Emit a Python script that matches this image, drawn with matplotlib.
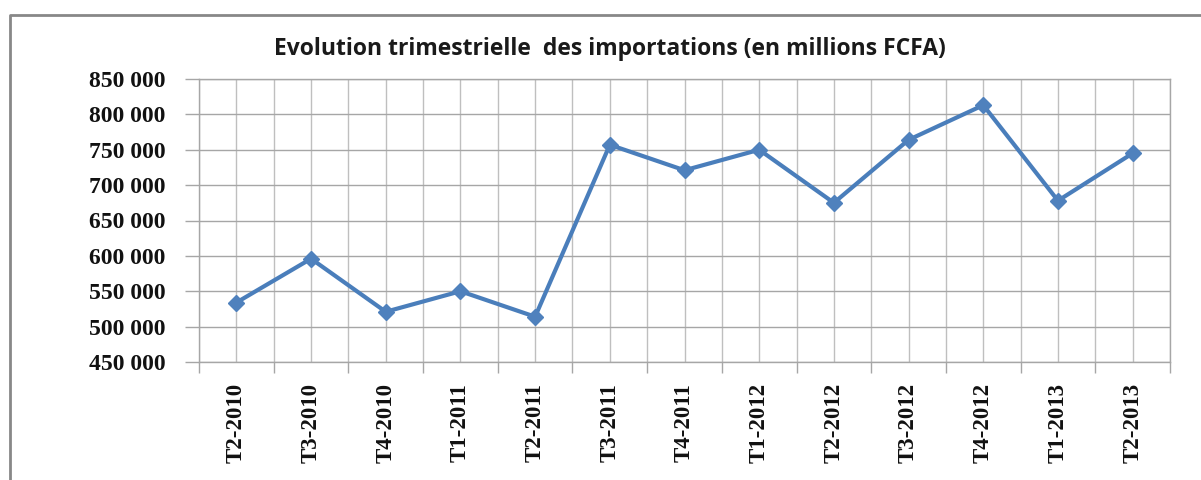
import matplotlib
matplotlib.use("Agg")
import matplotlib.pyplot as plt
import numpy as np
from matplotlib.lines import Line2D

categories = ["T2-2010", "T3-2010", "T4-2010", "T1-2011", "T2-2011", "T3-2011",
              "T4-2011", "T1-2012", "T2-2012", "T3-2012", "T4-2012", "T1-2013", "T2-2013"]
imports = [534000, 596000, 521000, 550000, 514000, 757000,
           721000, 750000, 675000, 764000, 813000, 678000, 745000]
yticks = [450000, 500000, 550000, 600000, 650000, 700000, 750000, 800000, 850000]
ytick_labels = ["450 000", "500 000", "550 000", "600 000", "650 000",
                "700 000", "750 000", "800 000", "850 000"]
title = "Evolution trimestrielle  des importations (en millions FCFA)"

W, H = 1201, 480
fig = plt.figure(figsize=(W / 100, H / 100), dpi=100)
fig.patch.set_facecolor("white")

left, right, top, bottom = 199, 1170, 79, 362
ax = fig.add_axes([left / W, 1 - bottom / H, (right - left) / W, (bottom - top) / H])

x = np.arange(len(categories))
ax.plot(x, imports, color="#4A7EBB", lw=3.0, marker="D", markersize=8,
        markerfacecolor="#4F81BD", markeredgecolor="#4F81BD", zorder=3)

ax.set_xlim(-0.5, len(categories) - 0.5)
ax.set_ylim(yticks[0], yticks[-1])

grid_c = "#A6A6A6"
ax.set_yticks(yticks)
ax.set_yticklabels(ytick_labels, family="Liberation Serif", fontweight="bold",
                   fontsize=17, color="#111111")
ax.set_xticks(np.arange(-0.5, len(categories), 1))
ax.set_xticklabels([])
ax.set_xticks(x, minor=True)
ax.set_xticklabels(categories, minor=True, rotation=90, family="Liberation Serif",
                   fontweight="bold", fontsize=16.5, color="#111111", va="top", ha="center")
ax.tick_params(axis="y", which="major", length=10, width=1, color=grid_c, pad=14)
ax.tick_params(axis="x", which="major", length=8, width=1, color=grid_c)
ax.tick_params(axis="x", which="minor", length=0, pad=15)

ax.grid(True, axis="y", color=grid_c, lw=1)
ax.grid(True, axis="x", which="both", color="#BFBFBF", lw=1)
ax.set_axisbelow(True)
for s in ax.spines.values():
    s.set_color(grid_c)
    s.set_linewidth(1)

fig.text(610 / W, 1 - 55 / H, title, ha="center", va="baseline",
         family="Open Sans", fontweight="bold", fontsize=16.5, color="#1a1a1a")

# outer chart frame
fig.add_artist(Line2D([10 / W, 10 / W, 1.02], [-0.02, 1 - 15 / H, 1 - 15 / H],
                      transform=fig.transFigure, color="#888888", lw=2))

fig.savefig("out.png", dpi=100)
